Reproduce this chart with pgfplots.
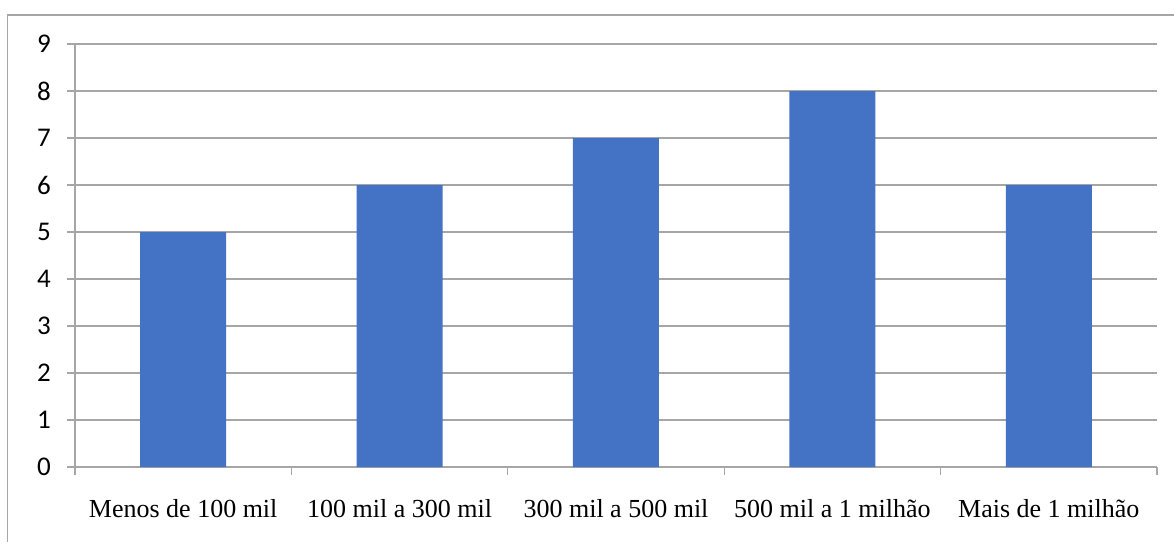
\documentclass[border=0pt]{standalone}
\usepackage{fontspec}
\setmainfont{Liberation Serif}
\newfontfamily\calibri{Carlito}
\usepackage{pgfplots}
\pgfplotsset{compat=1.18}
\definecolor{barblue}{HTML}{4472C4}
\definecolor{gridgray}{HTML}{A6A6A6}
\begin{document}
\begin{tikzpicture}[x=1pt,y=1pt]
  \useasboundingbox (0,0) rectangle (587,271);
  % chart area frame
  \draw[gridgray, line width=0.6pt] (3.75,0) -- (3.75,263.5) -- (587,263.5);
  \begin{axis}[
    at={(37.5pt,37.5pt)}, anchor=south west,
    scale only axis, width=541pt, height=211.5pt,
    xmin=-0.5, xmax=4.5, ymin=0, ymax=9,
    axis x line=bottom, axis y line=left,
    axis line style={gridgray, line width=0.6pt, -},
    ytick={0,...,9},
    ymajorgrids, grid style={gridgray, line width=0.6pt},
    tick align=outside, major tick length=4pt,
    tick style={gridgray, line width=0.6pt},
    xtick={-0.5,0.5,...,4.5}, xticklabels={},
    extra x ticks={0,1,2,3,4},
    extra x tick labels={Menos de 100 mil,100 mil a 300 mil,300 mil a 500 mil,500 mil a 1 milhão,Mais de 1 milhão},
    extra x tick style={tick style={draw=none}, grid=none},
    xticklabel style={font=\fontsize{13}{15}\selectfont, yshift=-8.5pt},
    yticklabel style={font=\calibri\fontsize{13.5}{15}\selectfont, xshift=-4.5pt},
    /pgf/number format/assume math mode=true,
    ybar, bar width=43pt,
  ]
    \addplot[fill=barblue, draw=none] coordinates {(0,5) (1,6) (2,7) (3,8) (4,6)};
  \end{axis}
\end{tikzpicture}
\end{document}
